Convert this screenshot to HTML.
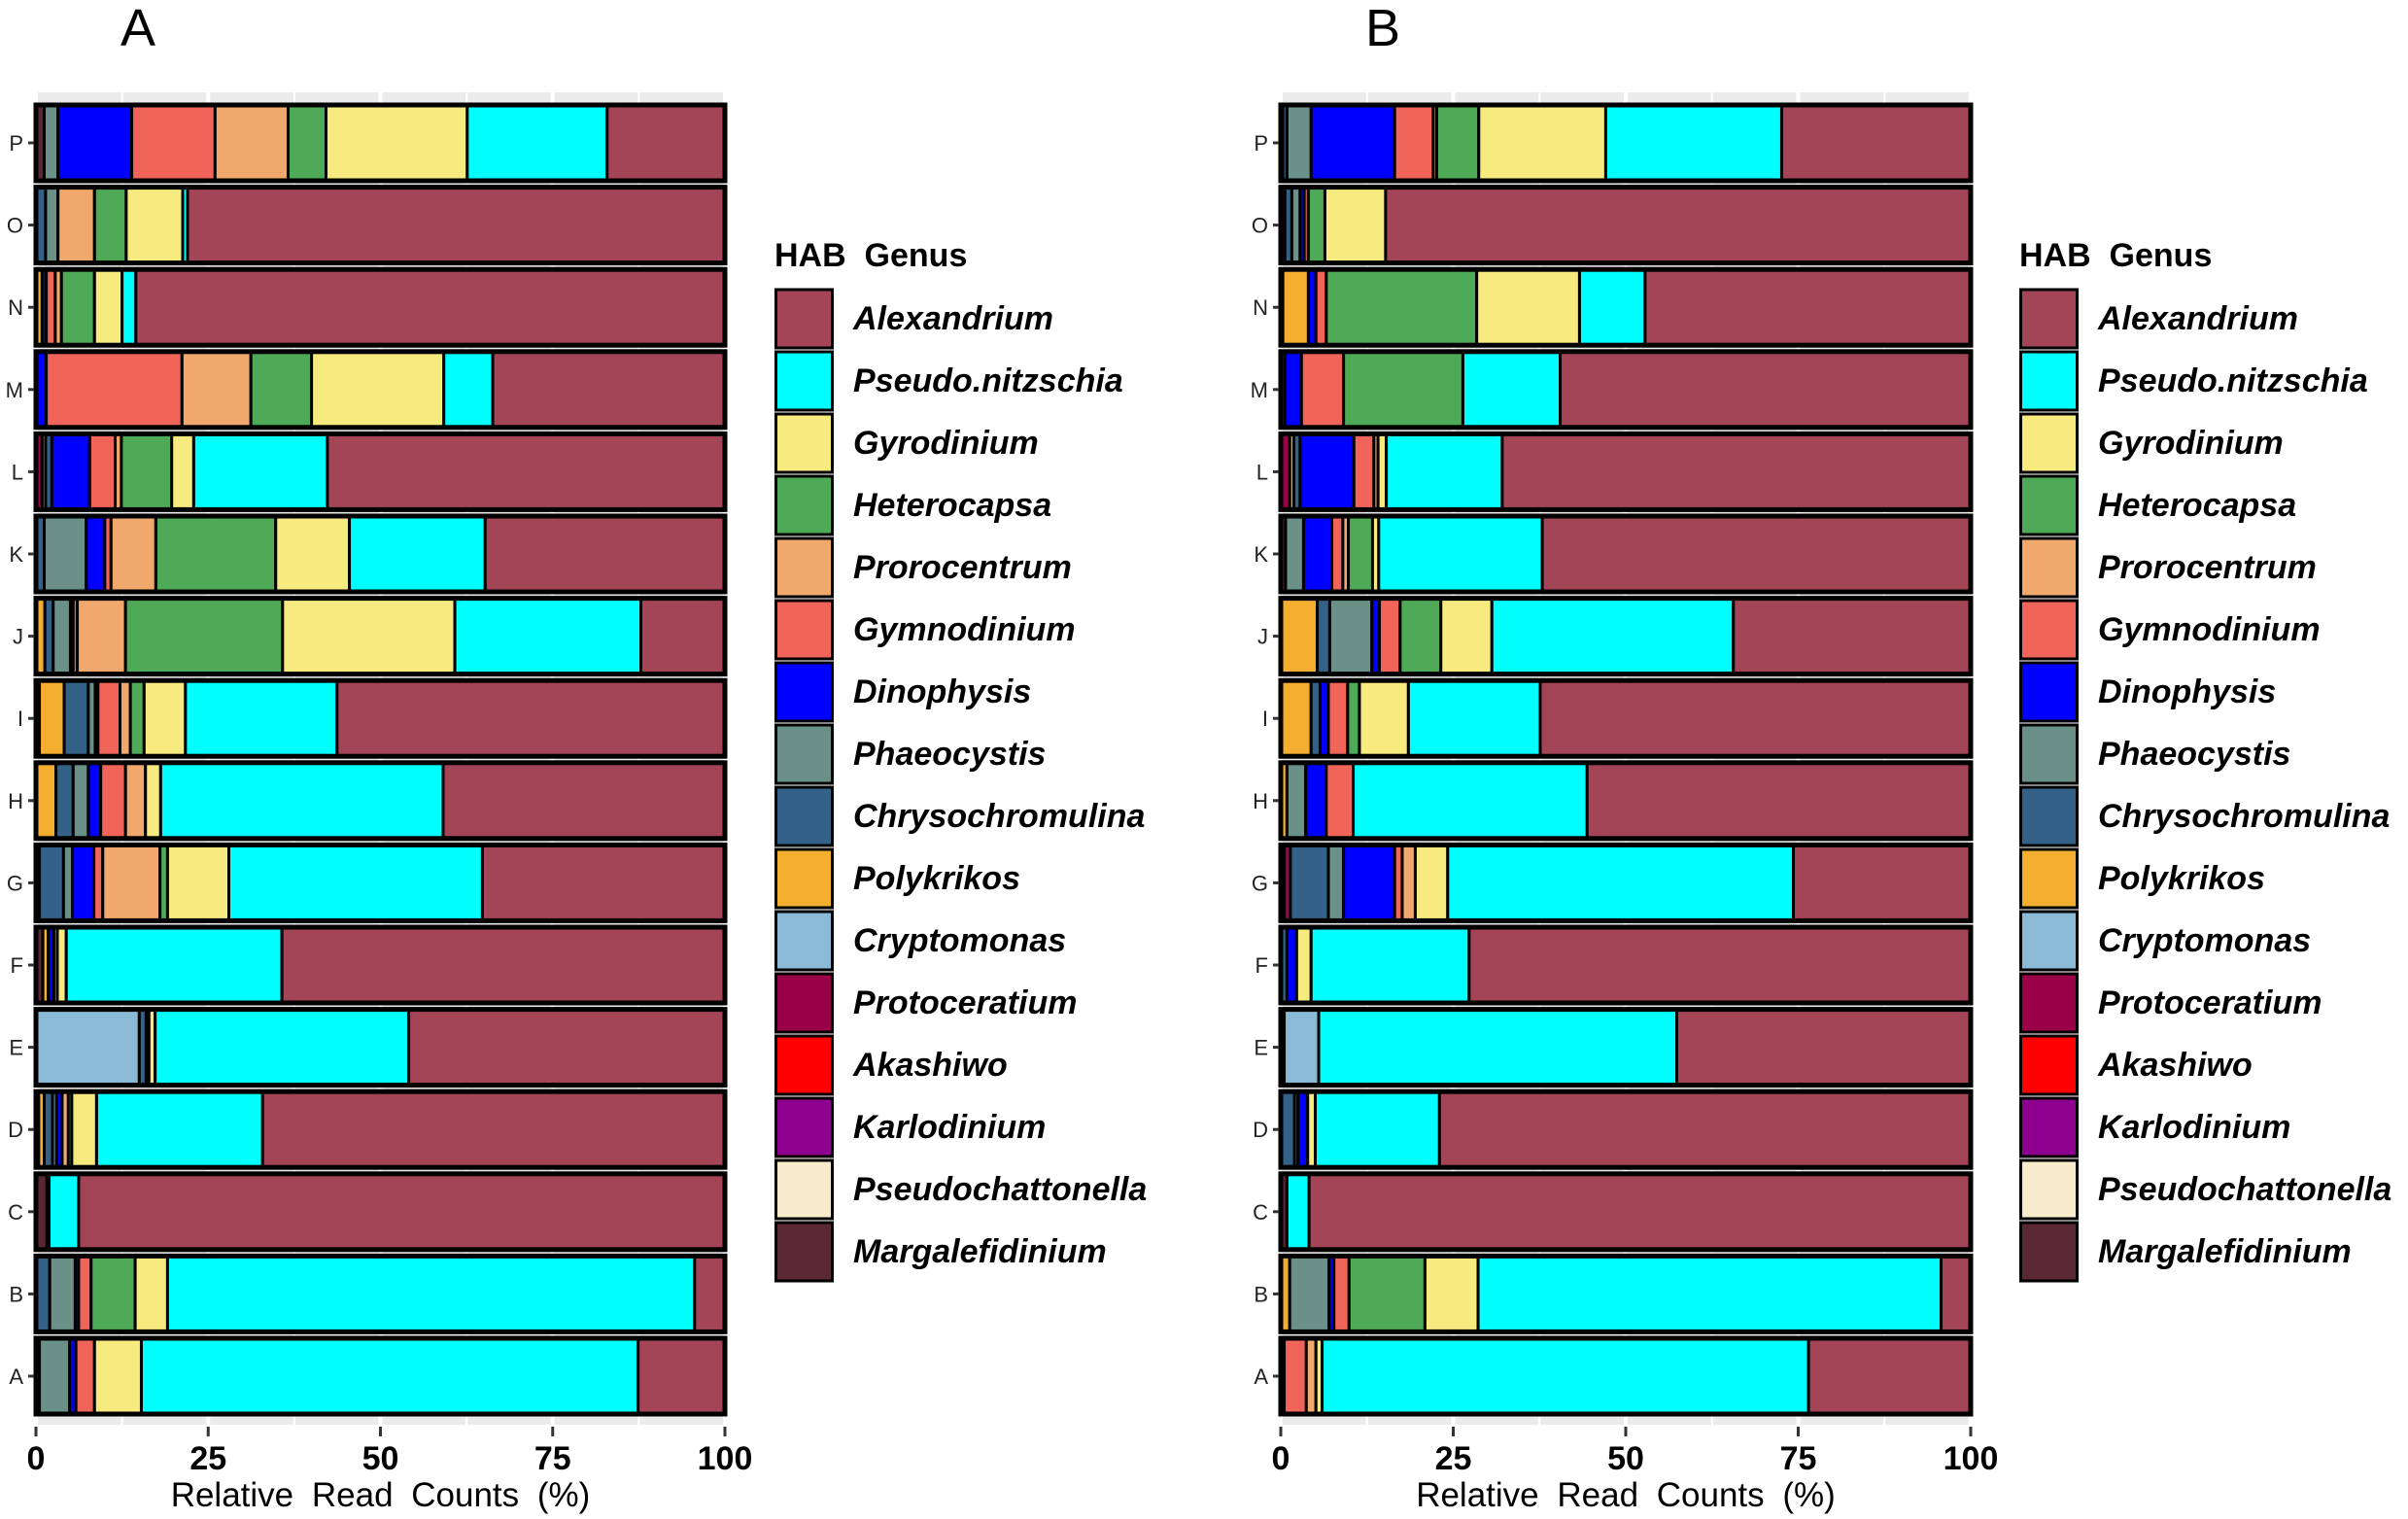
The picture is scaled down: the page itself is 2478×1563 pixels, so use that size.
<!DOCTYPE html>
<html><head><meta charset="utf-8"><style>
html,body{margin:0;padding:0;background:#fff}
svg{display:block;font-family:"Liberation Sans",Arial,sans-serif}
.pre{white-space:pre}
</style></head><body>
<svg id="chart" width="2478" height="1563" viewBox="0 0 2478 1563" xmlns="http://www.w3.org/2000/svg"></svg>
<script>
const rows = ["A","B","C","D","E","F","G","H","I","J","K","L","M","N","O","P"];
const genera = ["Margalefidinium","Pseudochattonella","Karlodinium","Akashiwo","Protoceratium","Cryptomonas","Polykrikos","Chrysochromulina","Phaeocystis","Dinophysis","Gymnodinium","Prorocentrum","Heterocapsa","Gyrodinium","Pseudo.nitzschia","Alexandrium"];
const colors = ["#5A2832","#F8EACC","#8E008E","#FF0000","#990047","#8ABAD6","#F3AE30","#336188","#6A9088","#0000FF","#F0645A","#F0A86C","#4EAA57","#F7EB7F","#00FFFF","#A34557"];
const xTicks = [0,25,50,75,100];
// Panel A values (rows A..P); Alexandrium = remainder
const aMargalef = [0,0,1.6,0.4,0,1,0.5,0,0.5,0,0,0,0,0,0,1.2];
const aPseudochatt = [0,0,0,0,0,0,0,0,0,0,0,0,0,0,0,0];
const aKarlo = [0,0,0,0,0,0,0,0,0,0,0,0,0,0,0,0];
const aAkashiwo = [0,0,0,0,0,0,0,0,0,0,0,0,0,0,0,0];
const aProto = [0,0,0,0,0,0,0,0,0,0,0,0.9,0,0,0,0];
const aCrypto = [0,0,0,0,15,0,0,0,0,0,0,0,0,0,0,0];
const aPoly = [0,0,0,0.8,0,0.8,0,2.9,3.6,1.3,0,0.5,0,0.9,0,0];
const aChryso = [0.5,2,0,1.2,1,0,3.5,2.5,3.5,1.2,1.2,0.9,0,0,1.4,0];
const aPhaeo = [4.4,3.7,0,0.6,0.4,0,1.3,2.2,1,2.5,6.1,0,0,0,1.8,2];
const aDino = [0.9,0.5,0,0.8,0,0.8,3.1,1.8,0.4,0.4,2.7,5.5,1.5,0.6,0,10.7];
const aGymno = [2.7,1.8,0,0,0,0,1.3,3.6,3.2,0.6,0.9,3.7,19.7,1.3,0,12.1];
const aProro = [0,0,0,0.9,0,0.5,8.3,2.9,1.5,7,6.5,0.9,10,0.9,5.3,10.6];
const aHetero = [0,6.4,0,0.5,0,0,1.1,0,2,22.8,17.4,7.3,8.8,4.8,4.6,5.5];
const aGyro = [6.8,4.7,0.3,3.6,0.9,1.3,8.9,2.2,6,25,10.7,3.2,19.2,4,8.2,20.5];
const aPseudo = [72.1,76.5,4.3,24.1,36.8,31.3,36.8,41,22,27,19.7,19.4,7.1,2,0.7,20.3];
// Panel B values
const bMargalef = [0.5,0,0.9,0,0,0,0,0,0,0,0.7,0,0,0.3,0,0.3];
const bPseudochatt = [0,0,0,0,0,0,0,0,0,0,0,0,0,0,0,0];
const bKarlo = [0,0,0,0,0,0,0,0,0,0,0,0,0,0,0,0];
const bAkashiwo = [0,0,0,0,0.5,0,0.5,0,0,0,0,0,0,0,0,0];
const bProto = [0,0,0,0,0,0,0.9,0,0,0,0,1.3,0,0,0.6,0];
const bCrypto = [0,0,0,0,5,0,0,0,0,0,0,0,0,0,0,0];
const bPoly = [0,1.3,0,0,0,0,0,0.9,4.4,5.3,0,0.6,0,3.7,0,0];
const bChryso = [0,0,0,2,0,0.9,5.5,0,1.3,1.8,0,0.9,0,0,1,0.6];
const bPhaeo = [0,5.7,0,0.5,0,0,2.2,2.7,0,6.1,2.6,0,0.6,0,1.2,3.5];
const bDino = [0,0.7,0,1.4,0,1.4,7.4,3,1.2,1.1,4.1,7.8,2.4,1.1,0.6,12.1];
const bGymno = [3.2,2.2,0,0,0,0,1.1,3.9,2.8,3,1.6,2.9,6.1,1.5,0.6,5.6];
const bProro = [1.4,0,0,0,0,0,1.9,0,0,0,0.8,0.6,0,0,0,0.5];
const bHetero = [0,11,0,0,0,0,0,0,1.7,5.9,3.5,0,17.3,21.8,2.4,6.1];
const bGyro = [0.9,7.7,0,1.1,0,2.1,4.7,0,7.1,7.4,0.9,1.2,0,14.9,8.8,18.4];
const bPseudo = [70.5,67.1,3.2,18,51.9,22.9,50.1,33.9,19.1,35,23.7,16.8,14.1,9.5,0,25.5];

const panelA = [aMargalef,aPseudochatt,aKarlo,aAkashiwo,aProto,aCrypto,aPoly,aChryso,aPhaeo,aDino,aGymno,aProro,aHetero,aGyro,aPseudo];
const panelB = [bMargalef,bPseudochatt,bKarlo,bAkashiwo,bProto,bCrypto,bPoly,bChryso,bPhaeo,bDino,bGymno,bProro,bHetero,bGyro,bPseudo];

const NS = "http://www.w3.org/2000/svg";
const svg = document.getElementById("chart");
function mk(tag, attrs, parent){const e=document.createElementNS(NS,tag);for(const k in attrs)e.setAttribute(k,attrs[k]);(parent||svg).appendChild(e);return e;}

const yTop = 147, yStep = 84.6, barH = 78;
function yPos(i){return yTop + (rows.length-1-i)*yStep;}

function drawPanel(series, x0, x1, letter, legendX, key){
  const xs = v => x0 + (x1-x0)*v/100;
  const g = mk("g",{});
  
  
  const bg = mk("rect",{x:x0-1,y:95,width:x1-x0+2,height:1371,fill:"#EBEBEB"},g);
  
  
  for(let t=0;t<=100;t+=12.5){
    const gl = mk("line",{x1:xs(t),x2:xs(t),y1:95,y2:1466,stroke:"#fff","stroke-width":t%25===0?4:2},g);
    
    
  }
  rows.forEach((r,i)=>{
    const yc = yPos(i);
    const yb = yc - barH/2;
    let acc = 0;
    series.forEach((arr,gi)=>{
      const v = arr[i];
      if(v<=0) return;
      const seg = mk("rect",{x:xs(acc),y:yb,width:xs(acc+v)-xs(acc),height:barH,fill:colors[gi],stroke:"#000","stroke-width":3},g);
      
      
      acc += v;
    });
    const rest = mk("rect",{x:xs(acc),y:yb,width:xs(100)-xs(acc),height:barH,fill:colors[15],stroke:"#000","stroke-width":3},g);
    
    
    const ob = mk("rect",{x:xs(0),y:yb,width:xs(100)-xs(0),height:barH,fill:"none",stroke:"#000","stroke-width":5},g);
    
    
    const tk = mk("line",{x1:x0-8,x2:x0-2,y1:yc,y2:yc,stroke:"#333","stroke-width":3},g);
    
    
    const lb = mk("text",{x:x0-13,y:yc+8,"font-size":22,"text-anchor":"end",fill:"#222"},g);
    lb.textContent = r;
    
    
  });
  xTicks.forEach(t=>{
    const tk = mk("line",{x1:xs(t),x2:xs(t),y1:1468,y2:1478,stroke:"#333","stroke-width":3},g);
    
    
    const lb = mk("text",{x:xs(t),y:1512,"font-size":34,"font-weight":"bold","text-anchor":"middle",fill:"#000"},g);
    lb.textContent = t;
    
    
  });
  const xt = mk("text",{x:(x0+x1)/2,y:1550,"font-size":35,"word-spacing":9,"text-anchor":"middle",fill:"#000"},g);
  xt.textContent = "Relative Read Counts (%)";
  
  
  const pl = mk("text",{x:x0+105,y:47,"font-size":54,"text-anchor":"middle",fill:"#000"},g);
  pl.textContent = letter;
  
  
  const lg = mk("g",{},g);
  
  
  const lt = mk("text",{x:legendX,y:274,"font-size":34,"font-weight":"bold",fill:"#000","class":"pre"},lg);
  lt.textContent = "HAB  Genus";
  
  
  for(let k=0;k<16;k++){
    const gi = 15-k;
    const y = 298 + k*64;
    const sw = mk("rect",{x:legendX+1.5,y:y,width:58,height:60,fill:colors[gi],stroke:"#000","stroke-width":3},lg);
    
    
    const tx = mk("text",{x:legendX+81,y:y+41,"font-size":34,"font-weight":"bold","font-style":"italic",fill:"#000"},lg);
    tx.textContent = genera[gi];
    
    
  }
}
drawPanel(panelA, 37, 746, "A", 797, "a");
drawPanel(panelB, 1318, 2028, "B", 2078, "b");
</script>
</body></html>
